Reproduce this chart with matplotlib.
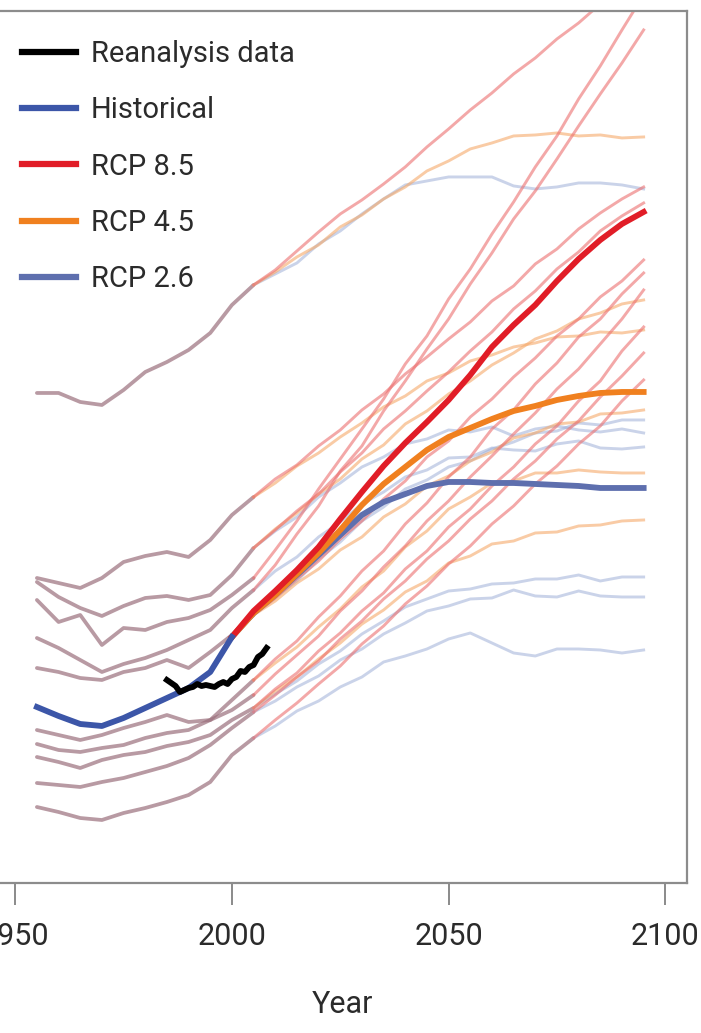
import matplotlib
matplotlib.use("Agg")
import matplotlib.pyplot as plt

FONT = ["Roboto", "Liberation Sans", "DejaVu Sans"]
plt.rcParams["font.family"] = FONT

# years
hist_years = list(range(1955, 2010, 5))      # model runs, historical part
proj_years = list(range(2005, 2100, 5))      # model runs, scenario part
mean_hist_years = list(range(1955, 2005, 5))
mean_proj_years = list(range(2000, 2100, 5))
reanalysis_years = list(range(1985, 2009))

# individual model runs, historical period
hist_runs = {
    "O": [49.0, 49.0, 48.1, 47.8, 49.3, 51.1, 52.1, 53.3, 55.0, 57.8, 59.8],
    "A": [30.5, 30.0, 29.5, 30.5, 32.1, 32.7, 33.1, 32.6, 34.3, 36.8, 38.6],
    "B": [30.1, 28.6, 27.5, 26.7, 27.7, 28.5, 28.7, 28.3, 28.8, 30.8, 33.5],
    "C": [28.3, 26.1, 26.8, 23.8, 25.5, 25.3, 26.1, 26.5, 27.3, 28.8, 30.5],
    "D": [24.5, 23.5, 22.3, 21.1, 21.9, 22.5, 23.3, 24.3, 25.3, 27.5, 29.3],
    "E": [21.5, 21.1, 20.5, 20.3, 21.1, 21.5, 22.3, 21.5, 23.1, 24.8, 26.8],
    "F": [15.3, 14.8, 14.3, 14.8, 15.5, 16.1, 16.8, 16.1, 16.3, 17.3, 18.8],
    "J": [13.9, 13.3, 13.1, 13.5, 13.8, 14.5, 15.0, 15.3, 16.3, 18.3, 20.3],
    "G": [12.6, 12.1, 11.5, 12.3, 12.8, 13.1, 13.7, 14.1, 14.8, 16.3, 17.5],
    "H": [10.0, 9.8, 9.6, 10.1, 10.5, 11.1, 11.7, 12.5, 13.8, 15.5, 17.1],
    "I": [7.6, 7.1, 6.5, 6.3, 7.0, 7.5, 8.1, 8.8, 10.1, 12.8, 14.5],
}

# individual model runs, RCP 8.5
rcp85_runs = [
    [59.8, 61.3, 63.2, 65.1, 66.9, 68.3, 69.9, 71.6, 73.6, 75.4, 77.3, 79.0, 80.9, 82.5, 84.4, 86.0, 87.9, 89.5, 91.0],
    [38.6, 40.4, 41.8, 43.7, 45.3, 47.3, 48.9, 50.9, 52.6, 54.4, 56.1, 58.2, 59.7, 61.9, 63.4, 65.4, 67.0, 68.4, 69.6],
    [33.5, 35.3, 37.2, 38.9, 41.1, 43.0, 45.4, 47.2, 49.2, 51.1, 53.2, 55.1, 57.4, 59.2, 61.4, 63.1, 65.2, 66.7, 68.0],
    [30.5, 33.3, 36.2, 39.4, 42.4, 45.4, 48.4, 51.9, 54.7, 58.4, 61.4, 64.9, 68.1, 71.6, 74.7, 78.4, 81.7, 85.3, 88.8],
    [29.3, 31.8, 34.9, 37.7, 41.2, 43.7, 47.2, 50.2, 53.4, 56.4, 59.9, 63.0, 66.4, 69.2, 72.4, 75.7, 78.9, 82.0, 85.3],
    [26.8, 28.5, 30.4, 32.2, 34.4, 36.2, 38.4, 40.2, 42.6, 44.2, 46.6, 48.4, 50.6, 52.5, 54.7, 56.4, 58.6, 60.2, 62.3],
    [18.8, 20.9, 22.8, 24.7, 27.2, 29.2, 31.6, 33.7, 36.2, 38.2, 40.6, 42.7, 44.9, 47.0, 49.4, 51.4, 53.9, 56.4, 59.3],
    [20.3, 22.4, 24.2, 26.6, 28.7, 31.2, 33.2, 35.9, 38.0, 40.6, 42.6, 45.4, 47.3, 49.9, 52.0, 54.6, 56.4, 58.9, 61.0],
    [17.5, 19.4, 21.0, 23.2, 25.0, 27.2, 29.0, 31.4, 33.2, 35.6, 37.4, 39.7, 41.6, 43.9, 45.7, 48.2, 50.2, 53.2, 55.6],
    [17.1, 18.8, 20.6, 22.2, 24.4, 26.2, 28.4, 30.2, 32.4, 34.2, 36.4, 38.2, 40.4, 42.2, 44.4, 46.2, 48.6, 50.7, 53.0],
    [14.5, 16.3, 18.0, 19.9, 21.7, 23.9, 25.7, 27.9, 29.7, 31.9, 33.7, 35.9, 37.7, 39.9, 41.7, 43.9, 45.7, 48.2, 50.3],
]

# individual model runs, RCP 4.5
rcp45_runs = [
    [59.8, 61.1, 62.6, 63.8, 65.6, 66.8, 68.4, 69.6, 71.2, 72.2, 73.4, 74.0, 74.7, 74.8, 75.0, 74.7, 74.8, 74.5, 74.6],
    [38.6, 40.0, 41.7, 43.0, 44.6, 46.0, 47.6, 48.7, 50.2, 51.0, 52.2, 52.8, 53.6, 54.0, 54.6, 54.7, 55.1, 55.0, 55.3],
    [33.5, 35.4, 37.0, 38.9, 40.4, 42.4, 43.8, 45.9, 47.2, 48.9, 50.2, 51.8, 53.0, 54.4, 55.2, 56.4, 57.0, 57.9, 58.3],
    [26.8, 28.2, 30.0, 31.4, 33.3, 34.6, 36.6, 37.9, 39.7, 40.7, 42.2, 43.1, 44.5, 45.0, 45.9, 46.1, 46.9, 47.0, 47.3],
    [20.3, 22.0, 23.6, 25.6, 27.4, 29.6, 31.2, 33.6, 35.2, 37.4, 38.6, 40.0, 40.2, 41.0, 41.0, 41.3, 41.1, 41.0, 41.0],
    [17.5, 19.2, 20.6, 22.4, 24.0, 25.9, 27.3, 29.1, 30.2, 32.0, 32.7, 33.9, 34.2, 35.0, 35.1, 35.7, 35.8, 36.2, 36.3],
]

# individual model runs, RCP 2.6
rcp26_runs = [
    [59.8, 60.9, 62.0, 63.9, 65.2, 66.9, 68.4, 69.8, 70.2, 70.6, 70.6, 70.6, 69.7, 69.4, 69.6, 70.0, 70.0, 69.8, 69.4],
    [33.5, 35.2, 36.6, 38.6, 40.0, 41.6, 42.6, 43.9, 44.4, 45.3, 45.1, 45.6, 44.7, 45.4, 45.7, 45.3, 45.1, 45.4, 45.0],
    [29.3, 31.2, 32.6, 34.6, 36.1, 37.9, 39.1, 40.6, 41.3, 42.5, 42.6, 43.5, 43.3, 43.2, 43.9, 44.2, 43.5, 43.4, 43.6],
    [26.8, 28.6, 30.2, 32.4, 34.1, 36.2, 37.6, 39.4, 40.3, 41.6, 42.2, 43.4, 44.1, 45.0, 45.2, 46.0, 45.8, 46.3, 46.3],
    [17.5, 18.9, 20.2, 21.9, 23.2, 24.9, 26.2, 27.6, 28.4, 29.2, 29.4, 29.9, 30.0, 30.4, 30.4, 30.8, 30.2, 30.6, 30.6],
    [17.1, 18.2, 19.6, 20.7, 22.3, 23.4, 24.9, 26.0, 27.2, 27.7, 28.4, 28.5, 29.3, 28.7, 28.6, 29.2, 28.7, 28.6, 28.6],
    [14.5, 15.7, 17.2, 18.2, 19.6, 20.6, 22.1, 22.7, 23.4, 24.4, 25.0, 24.0, 23.0, 22.7, 23.4, 23.4, 23.3, 23.0, 23.3],
]

# multi-model means
hist_mean = [17.6, 16.7, 15.9, 15.7, 16.5, 17.5, 18.5, 19.5, 21.1, 24.6]
rcp85_mean = [24.6, 27.2, 29.2, 31.3, 33.6, 36.4, 39.1, 41.7, 44.0, 46.1,
              48.3, 50.8, 53.6, 55.8, 57.8, 60.2, 62.4, 64.3, 65.9, 67.1]
rcp45_mean = [24.6, 27.0, 28.8, 30.9, 33.0, 35.3, 37.8, 39.9, 41.6, 43.3,
              44.6, 45.5, 46.4, 47.2, 47.7, 48.3, 48.7, 49.0, 49.1, 49.1]
rcp26_mean = [24.6, 27.0, 28.8, 30.8, 32.8, 34.8, 36.8, 38.1, 38.9, 39.7,
              40.1, 40.1, 40.0, 40.0, 39.9, 39.8, 39.7, 39.5, 39.5, 39.5]

reanalysis = [20.3, 20.0, 19.7, 19.1, 19.3, 19.5, 19.6, 19.9, 19.7, 19.8, 19.7, 19.6,
              19.9, 20.1, 19.9, 20.4, 20.6, 21.2, 21.1, 21.6, 21.8, 22.6, 22.9, 23.5]

fig = plt.figure(figsize=(7.01, 10.33), dpi=100)
ax = fig.add_axes([-0.003, 0.1452, 0.983, 0.8442])

# spaghetti
for vals in hist_runs.values():
    ax.plot(hist_years, vals, color="#9b6f7c", alpha=0.7, lw=2.7, solid_capstyle="round")
for vals in rcp26_runs:
    ax.plot(proj_years, vals, color="#9fb0d8", alpha=0.55, lw=2.1)
for vals in rcp45_runs:
    ax.plot(proj_years, vals, color="#f5a96a", alpha=0.6, lw=2.1)
for vals in rcp85_runs:
    ax.plot(proj_years, vals, color="#ec6f6f", alpha=0.6, lw=2.1)

# means
l26, = ax.plot(mean_proj_years, rcp26_mean, color="#5e6fae", lw=4.2, label="RCP 2.6")
l45, = ax.plot(mean_proj_years, rcp45_mean, color="#f0801f", lw=4.2, label="RCP 4.5")
l85, = ax.plot(mean_proj_years, rcp85_mean, color="#e11d27", lw=4.2, label="RCP 8.5")
lh, = ax.plot(mean_hist_years, hist_mean, color="#3c56a8", lw=4.2, label="Historical")
lr, = ax.plot(reanalysis_years, reanalysis, color="black", lw=4.2, label="Reanalysis data")

ax.set_xlim(1946, 2105)
ax.set_ylim(0, 87.2)

ax.set_xticks([1950, 2000, 2050, 2100])
ax.set_yticks([])
ax.tick_params(axis="x", direction="out", length=16, width=1.2, color="#777777",
               pad=12, labelsize=22, labelcolor="#2b2b2b")
for s in ["top", "right", "bottom"]:
    ax.spines[s].set_color("#8c8c8c")
    ax.spines[s].set_linewidth(1.6)
ax.spines["left"].set_visible(False)

ax.set_xlabel("Year", fontsize=22, color="#2b2b2b", labelpad=28)

leg = ax.legend(handles=[lr, lh, l85, l45, l26], loc="upper left",
                bbox_to_anchor=(22 / 701, 1 - 40 / 1033), bbox_transform=fig.transFigure,
                frameon=False, fontsize=21, handlelength=1.85, handletextpad=0.5,
                labelspacing=0.97, borderpad=0, borderaxespad=0)
for line in leg.get_lines():
    line.set_linewidth(4.5)
for t in leg.get_texts():
    t.set_color("#2b2b2b")

fig.savefig("out.png", dpi=100)
